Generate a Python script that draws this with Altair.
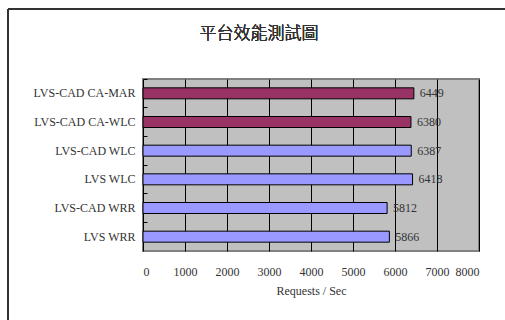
import altair as alt
import pandas as pd

title_text = "平台效能測試圖"
categories = ["LVS-CAD CA-MAR", "LVS-CAD CA-WLC", "LVS-CAD WLC", "LVS WLC", "LVS-CAD WRR", "LVS WRR"]
values = [6449, 6380, 6387, 6418, 5812, 5866]
groups = ["CA", "CA", "base", "base", "base", "base"]
x_ticks = [0, 1000, 2000, 3000, 4000, 5000, 6000, 7000, 8000]

df = pd.DataFrame({"cat": categories, "val": values, "grp": groups})

SERIF = "Liberation Serif"

y_enc = alt.Y("cat:N", sort=categories, title=None,
              scale=alt.Scale(paddingInner=0, paddingOuter=0),
              axis=alt.Axis(bandPosition=0, domain=False, ticks=True, tickSize=4,
                            tickColor="#000000", offset=-4, labelPadding=8,
                            labelFont=SERIF, labelFontSize=12, labelColor="#333333",
                            grid=False))
x_enc = alt.X("val:Q", title="Requests / Sec",
              scale=alt.Scale(domain=[0, 8000], nice=False),
              axis=alt.Axis(values=x_ticks, format="d",
                            grid=True, gridColor="#000000", gridWidth=1, gridOpacity=1,
                            domain=False, ticks=False, labelPadding=15,
                            labelFont=SERIF, labelFontSize=12, labelColor="#333333",
                            titleFont=SERIF, titleFontSize=12, titleFontWeight="normal",
                            titleColor="#333333", titlePadding=8))

bars = alt.Chart(df).mark_bar(size=11, stroke="#000000", strokeWidth=1).encode(
    x=x_enc, y=y_enc,
    color=alt.Color("grp:N", scale=alt.Scale(domain=["CA", "base"], range=["#993366", "#9999FF"]),
                    legend=None),
)

labels = alt.Chart(df).mark_text(align="left", baseline="middle", dx=6, font=SERIF,
                                 fontSize=12, color="#333333").encode(
    x="val:Q", y=alt.Y("cat:N", sort=categories), text="val:Q"
)

title = alt.Chart(df).mark_text(font="Noto Sans CJK TC", fontSize=17, fontWeight=300,
                                color="#333333", align="center", baseline="middle").encode(
    x=alt.value(116), y=alt.value(-45), text=alt.value(title_text))

frame_left = alt.Chart(df).mark_rule(color="#333333", strokeWidth=1.5).encode(
    x=alt.value(-135), y=alt.value(-70), y2=alt.value(245))
frame_top = alt.Chart(df).mark_rule(color="#333333", strokeWidth=1.5).encode(
    x=alt.value(-135), x2=alt.value(370), y=alt.value(-70))

chart = alt.layer(bars, labels, title, frame_left, frame_top).properties(
    width=336, height=172,
    autosize=alt.AutoSizeParams(type="none"),
    padding={"left": 143, "top": 79, "right": 26, "bottom": 69},
    background="#FFFFFF",
).configure_view(fill="#C0C0C0", stroke="#808080", strokeWidth=2)

chart.save("out.html", embed_options={"renderer": "svg", "actions": False})
